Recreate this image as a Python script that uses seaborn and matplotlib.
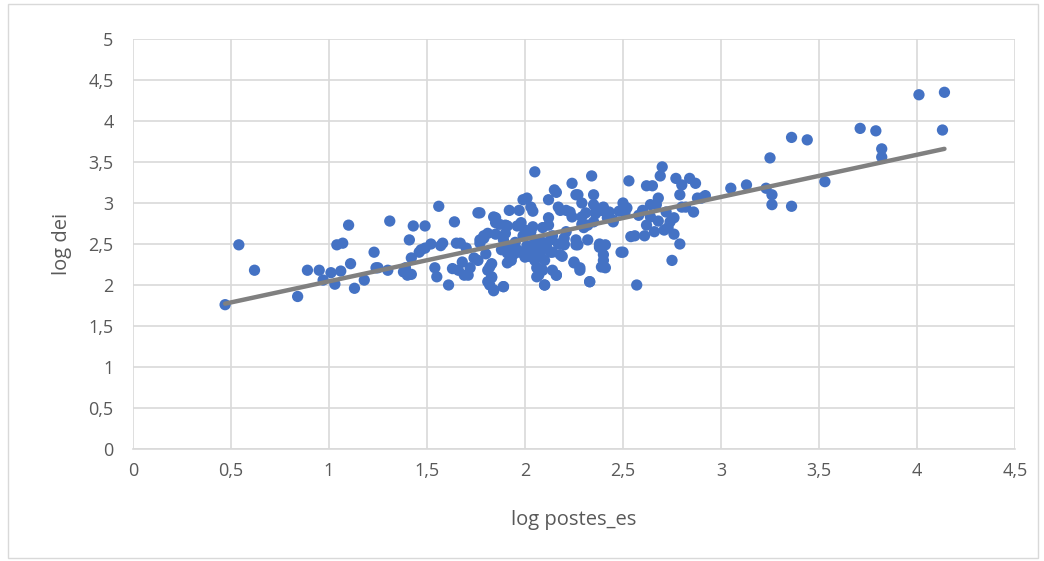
import numpy as np
import pandas as pd
import matplotlib
matplotlib.use("Agg")
import matplotlib.pyplot as plt
from matplotlib.ticker import FuncFormatter
import seaborn as sns

# data
log_postes_es = [
    0.47, 0.54, 0.62, 0.84, 0.89, 0.95, 0.97, 1.01, 1.04, 1.03, 1.06, 1.07, 1.10, 1.11, 1.13, 1.18,
    1.23, 1.24, 1.25, 1.31, 1.30, 1.38, 1.39, 1.41, 1.40, 1.42, 1.42, 1.43, 1.46, 1.47, 1.49, 1.49,
    1.52, 1.54, 1.55, 1.56, 1.57, 1.58, 1.61, 1.63, 1.64, 1.65, 1.66, 1.67, 1.68, 1.69, 1.70, 1.71,
    1.72, 1.74, 1.76, 1.76, 1.77, 1.79, 1.80, 1.81, 1.82, 1.83, 1.83, 1.84, 1.85, 1.85, 1.87, 1.88,
    1.89, 1.89, 1.91, 1.92, 1.93, 1.94, 1.95, 1.96, 1.97, 1.97, 1.99, 1.99, 2.01, 2.02, 2.03, 2.04,
    2.05, 2.05, 2.06, 2.07, 2.07, 2.08, 2.09, 2.10, 2.10, 2.11, 2.12, 2.12, 2.13, 2.14, 2.14, 2.15,
    2.16, 2.17, 2.18, 2.19, 2.20, 2.21, 2.23, 2.24, 2.25, 2.26, 2.27, 2.28, 2.29, 2.30, 2.31, 2.32,
    2.33, 2.34, 2.35, 2.35, 2.36, 2.38, 2.38, 2.39, 2.40, 2.41, 2.42, 2.43, 2.45, 2.48, 2.50, 2.50,
    2.51, 2.52, 2.53, 2.54, 2.56, 2.57, 2.58, 2.60, 2.61, 2.62, 2.62, 2.64, 2.64, 2.65, 2.66, 2.67,
    2.68, 2.68, 2.69, 2.70, 2.71, 2.72, 2.73, 2.74, 2.75, 2.76, 2.76, 2.77, 2.79, 2.79, 2.80, 2.80,
    2.82, 2.84, 2.86, 2.87, 2.88, 2.90, 2.92, 3.05, 3.13, 3.23, 3.25, 3.26, 3.26, 3.36, 3.36, 3.44,
    3.53, 3.71, 3.79, 3.82, 3.82, 4.01, 4.14, 4.13,
    # dense centre
    2.01, 2.16, 2.26, 2.35, 2.29, 2.03, 1.84, 1.85, 1.77, 2.17, 2.21, 2.24, 2.29, 2.12, 2.36, 2.40,
    2.42, 2.45, 2.32, 1.98, 2.04, 2.00, 1.90, 1.90, 1.81, 1.79, 1.77, 2.05, 2.09, 2.13, 2.20, 2.26,
    2.27, 2.20, 1.91, 1.91, 1.96, 2.01, 2.03, 2.07, 2.11, 2.14, 2.18, 2.00, 2.05, 1.91, 1.82, 1.83,
    1.81, 1.84, 1.89, 2.09, 2.06, 2.10, 2.16, 2.25, 2.28, 2.33, 2.39, 2.40, 2.38, 2.41, 2.49,
]
log_dei = [
    1.76, 2.49, 2.18, 1.86, 2.18, 2.18, 2.06, 2.15, 2.49, 2.01, 2.17, 2.51, 2.73, 2.26, 1.96, 2.06,
    2.40, 2.21, 2.21, 2.78, 2.18, 2.16, 2.21, 2.55, 2.12, 2.13, 2.33, 2.72, 2.40, 2.43, 2.72, 2.45,
    2.50, 2.21, 2.10, 2.96, 2.48, 2.51, 2.00, 2.20, 2.77, 2.51, 2.18, 2.51, 2.28, 2.12, 2.45, 2.12,
    2.21, 2.33, 2.88, 2.30, 2.55, 2.60, 2.38, 2.18, 2.00, 2.26, 2.09, 1.93, 2.62, 2.82, 2.74, 2.43,
    1.98, 2.55, 2.72, 2.91, 2.30, 2.37, 2.52, 2.72, 2.91, 2.40, 2.60, 3.04, 2.48, 2.35, 2.65, 2.90,
    2.48, 3.38, 2.21, 2.52, 2.12, 2.35, 2.70, 2.00, 2.30, 2.50, 2.73, 3.04, 2.40, 2.18, 2.60, 3.16,
    2.12, 2.50, 2.91, 2.35, 2.50, 2.65, 2.89, 3.24, 2.27, 2.49, 3.10, 2.21, 2.74, 2.70, 2.88, 2.55,
    2.04, 3.33, 2.77, 2.98, 2.87, 2.48, 2.50, 2.91, 2.37, 2.21, 2.82, 2.89, 2.77, 2.90, 2.40, 3.00,
    2.88, 2.94, 3.27, 2.59, 2.60, 2.00, 2.85, 2.91, 2.60, 3.21, 2.73, 2.83, 2.98, 3.21, 2.65, 2.98,
    3.06, 2.78, 3.33, 3.44, 2.67, 2.89, 2.70, 2.77, 2.30, 2.82, 2.62, 3.30, 3.10, 2.50, 3.22, 2.95,
    2.95, 3.30, 2.89, 3.24, 3.06, 3.06, 3.09, 3.18, 3.22, 3.18, 3.55, 3.10, 2.98, 3.80, 2.96, 3.77,
    3.26, 3.91, 3.88, 3.66, 3.56, 4.32, 4.35, 3.89,
    # dense centre
    3.06, 3.13, 3.10, 3.10, 3.00, 2.95, 2.83, 2.76, 2.88, 2.95, 2.91, 2.83, 2.83, 2.82, 2.89, 2.95,
    2.88, 2.79, 2.73, 2.76, 2.71, 2.67, 2.73, 2.63, 2.63, 2.57, 2.51, 2.55, 2.52, 2.55, 2.57, 2.55,
    2.49, 2.49, 2.46, 2.39, 2.43, 2.45, 2.39, 2.45, 2.45, 2.40, 2.37, 2.34, 2.30, 2.27, 2.22, 2.10,
    2.04, 1.94, 1.98, 2.18, 2.10, 2.00, 2.12, 2.28, 2.18, 2.04, 2.22, 2.30, 2.46, 2.49, 2.40,
]
x_ticks = [0, 0.5, 1, 1.5, 2, 2.5, 3, 3.5, 4, 4.5]
y_ticks = [0, 0.5, 1, 1.5, 2, 2.5, 3, 3.5, 4, 4.5, 5]
x_label = "log postes_es"
y_label = "log dei"

df = pd.DataFrame({"x": log_postes_es, "y": log_dei})

sns.set_style("white")
plt.rcParams["font.family"] = ["Open Sans", "DejaVu Sans"]

fig = plt.figure(figsize=(10.44, 5.61), dpi=100)
ax = fig.add_axes([133 / 1044, 1 - 449 / 561, (1015 - 133) / 1044, (449 - 39) / 561])

sns.scatterplot(data=df, x="x", y="y", ax=ax, color="#4472C4", s=66,
                edgecolor="none", zorder=3)
sns.regplot(data=df, x="x", y="y", ax=ax, scatter=False, ci=None, truncate=True,
            line_kws={"color": "#808080", "lw": 3.2, "solid_capstyle": "round", "zorder": 4})

ax.set_xlim(0, 4.5)
ax.set_ylim(0, 5)
ax.set_xticks(x_ticks)
ax.set_yticks(y_ticks)
fmt = FuncFormatter(lambda v, p: (f"{v:g}").replace(".", ","))
ax.xaxis.set_major_formatter(fmt)
ax.yaxis.set_major_formatter(fmt)
ax.grid(True, color="#d9d9d9", lw=1.2, zorder=0)
ax.set_axisbelow(True)
for side in ["top", "right", "left"]:
    ax.spines[side].set_visible(False)
ax.spines["bottom"].set_color("#d9d9d9")
ax.spines["bottom"].set_linewidth(1.2)
ax.tick_params(axis="x", length=0, pad=9, labelsize=13, labelcolor="#595959")
ax.tick_params(axis="y", length=0, pad=14, labelsize=13, labelcolor="#595959")
ax.set_xlabel(x_label, fontsize=14.5, color="#595959", labelpad=22)
ax.set_ylabel(y_label, fontsize=14.5, color="#595959", labelpad=12)

# chart-area border
fig.patches.append(plt.Rectangle((8 / 1044, 3 / 561), 1030 / 1044, 554 / 561,
                                 transform=fig.transFigure, fill=False,
                                 edgecolor="#d9d9d9", lw=1))

fig.savefig("out.png", dpi=100)
